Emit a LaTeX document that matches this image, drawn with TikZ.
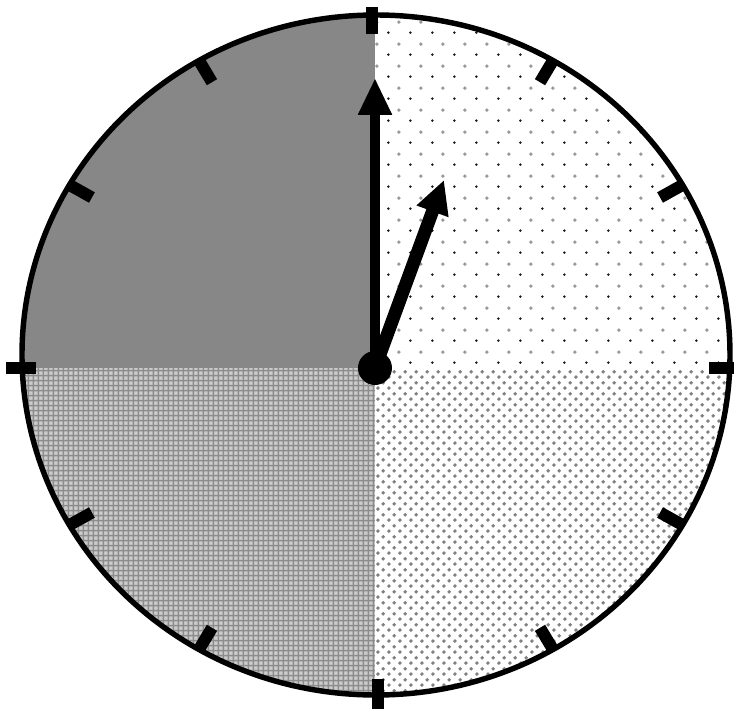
\documentclass[tikz,border=0pt]{standalone}
\usetikzlibrary{arrows.meta,patterns.meta}

% Les motifs
\tikzdeclarepattern{
  name=pointsrares, type=colored,
  bounding box={(0,0) and (12.25pt,12.25pt)},
  tile size={(12.25pt,12.25pt)},
  code={
    \fill[black!90] (0.8pt,0.8pt) circle (0.8pt);
    \fill[black!40] (6.9pt,6.9pt) circle (1.15pt);
  }
}
\tikzdeclarepattern{
  name=pointsdenses, type=colored,
  bounding box={(0,0) and (6.12pt,6.12pt)},
  tile size={(6.12pt,6.12pt)},
  code={
    \fill[black!50] (1.1pt,1.1pt) circle (1.15pt);
    \fill[black!50] (4.16pt,4.16pt) circle (1.15pt);
  }
}
\tikzdeclarepattern{
  name=quadrillage, type=colored,
  bounding box={(0,0) and (3.06pt,3.06pt)},
  tile size={(3.06pt,3.06pt)},
  code={
    \fill[black!20] (0,0) rectangle (3.06pt,3.06pt);
    \draw[black!45,line width=0.9pt] (0,1.5pt) -- (3.06pt,1.5pt);
    \draw[black!45,line width=0.9pt] (1.5pt,0) -- (1.5pt,3.06pt);
  }
}

\tikzset{
  trait/.style={line width=6.8pt},
  aiguille/.style={line width=#1, line cap=butt},
}

\begin{document}
\begin{tikzpicture}[x=0.02cm,y=0.02cm]
  \useasboundingbox (-375,-340) rectangle (359,368);

  % Les quarts
  \begin{scope}
    \clip (1,13) ellipse [x radius=354, y radius=340];
    \fill[black!47] (0,0) rectangle (-380,380);                 % haut gauche
    \fill[pattern=pointsrares] (0,0) rectangle (380,380);       % haut droite
    \fill[pattern=quadrillage] (0,0) rectangle (-380,-380);     % bas gauche
    \fill[pattern=pointsdenses] (0,0) rectangle (380,-380);     % bas droite
  \end{scope}

  % Le cadran
  \draw[line width=3.1pt] (1,13) ellipse [x radius=354, y radius=340];

  % Les graduations
  \foreach \h in {1,2,4,5,7,8,10,11}
    \draw[trait] ({1+328*cos(90-30*\h)},{13+315*sin(90-30*\h)})
      -- ({1+356*cos(90-30*\h)},{13+342*sin(90-30*\h)});
  \draw[trait] (-3,334) -- (-3,361);     % 12
  \draw[trait] (334,0) -- (360,0);       % 3
  \draw[trait] (3,-311) -- (3,-341);     % 6
  \draw[trait] (-339,0) -- (-369,0);     % 9

  % Les aiguilles
  \coordinate (centre) at (0,0);
  \coordinate (minute) at (0,290);
  \coordinate (heure) at (69,188);
  \draw[aiguille=5.2pt,-{Triangle[length=21pt,width=18pt]}] (centre) -- (minute);
  \draw[aiguille=7.4pt,-{Triangle[length=19pt,width=18pt]}] (centre) -- (heure);
  \fill (centre) circle (17);

\end{tikzpicture}
\end{document}
